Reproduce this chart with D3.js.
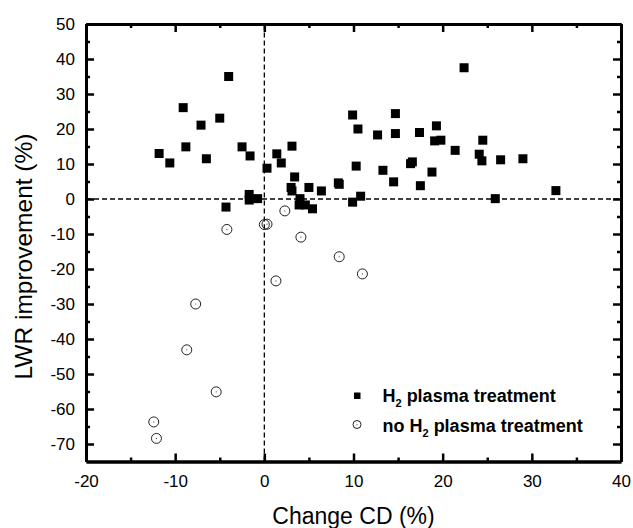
<!DOCTYPE html>
<html><head><meta charset="utf-8">
<script src="https://cdn.jsdelivr.net/npm/d3@7"></script>
<style>body{margin:0;background:#fff}svg{display:block;font-family:"Liberation Sans",Arial,sans-serif}</style>
</head><body>
<svg id="c" width="633" height="528"></svg>
<script>
// H2 plasma treatment (filled squares)
const h2X = [-11.8,-10.6,-9.1,-8.8,-7.1,-6.5,-5.0,-4.0,-4.3,-2.5,-1.6,-1.7,-1.7,-0.75,0.3,1.4,1.9,3.1,3.4,3.0,3.1,5.0,4.0,3.9,4.6,5.4,6.4,22.4,9.9,14.7,10.5,12.7,14.7,17.4,19.3,19.1,19.8,21.4,24.5,24.1,24.4,26.5,29.0,10.3,13.3,16.4,16.6,14.5,18.8,17.5,8.3,8.4,9.9,10.8,25.9,32.7];
const h2Y = [13.0,10.3,26.1,14.9,21.1,11.5,23.1,35.0,-2.3,14.9,12.3,1.3,-0.3,0.1,8.8,12.9,10.3,15.1,6.3,3.3,2.3,3.3,0.1,-1.7,-1.7,-2.8,2.3,37.5,24.0,24.4,20.0,18.3,18.7,19.0,20.9,16.6,16.8,13.9,16.8,12.8,10.9,11.2,11.5,9.4,8.2,10.1,10.6,4.9,7.7,3.8,4.6,4.2,-0.9,0.8,0.1,2.4];
// no H2 plasma treatment (open circles)
const noX = [-4.2,0.0,0.3,2.3,4.1,8.4,11.0,1.3,-7.7,-8.7,-5.4,-12.4,-12.1];
const noY = [-8.7,-7.3,-7.2,-3.4,-10.9,-16.5,-21.4,-23.4,-30.0,-43.1,-55.1,-63.7,-68.4];
const xMajor = [-20,-10,0,10,20,30,40];
const xMinor = [-15,-5,5,15,25,35];
const yMajor = [-70,-60,-50,-40,-30,-20,-10,0,10,20,30,40,50];
const yMinor = [-65,-55,-45,-35,-25,-15,-5,5,15,25,35,45];
const legendLabels = [["", "H", "2", " plasma treatment"], ["no ", "H", "2", " plasma treatment"]];

const svg = d3.select("#c");
const L = 86, R = 621, T = 24, B = 461.5;
const x = d3.scaleLinear().domain([-20, 40]).range([L, R]);
const y = d3.scaleLinear().domain([-75, 50]).range([B, T]);

// dashed zero lines
svg.append("line").attr("x1", x(-20)).attr("x2", x(40)).attr("y1", y(0)).attr("y2", y(0))
  .attr("stroke", "#000").attr("stroke-width", 1.3).attr("stroke-dasharray", "5,3");
svg.append("line").attr("x1", x(0)).attr("x2", x(0)).attr("y1", y(-75)).attr("y2", y(50))
  .attr("stroke", "#000").attr("stroke-width", 1.3).attr("stroke-dasharray", "5,3");

// circles
const circ = svg.append("g");
noX.forEach((v, i) => {
  circ.append("circle").attr("cx", x(v)).attr("cy", y(noY[i])).attr("r", 5)
    .attr("fill", "none").attr("stroke", "#222").attr("stroke-width", 1);
  circ.append("circle").attr("cx", x(v)).attr("cy", y(noY[i])).attr("r", 0.6).attr("fill", "#444");
});
// squares
const sq = svg.append("g");
h2X.forEach((v, i) => {
  sq.append("rect").attr("x", x(v) - 4.5).attr("y", y(h2Y[i]) - 4.5).attr("width", 9).attr("height", 9).attr("fill", "#000");
});

function styleAxis(g) {
  g.selectAll("path.domain").attr("stroke", "#000").attr("stroke-width", 3);
  g.selectAll(".tick line").attr("stroke", "#000").attr("stroke-width", 2.5);
  g.selectAll("text").attr("font-size", 17).attr("fill", "#000").attr("font-family", "Liberation Sans, Arial, sans-serif");
}
const fmt = d => String(d);
// bottom
svg.append("g").attr("transform", `translate(0,${B})`)
  .call(d3.axisBottom(x).tickValues(xMajor).tickSize(-8).tickSizeOuter(0).tickPadding(13).tickFormat(fmt)).call(styleAxis);
svg.append("g").attr("transform", `translate(0,${B})`)
  .call(d3.axisBottom(x).tickValues(xMinor).tickSize(-4).tickSizeOuter(0).tickFormat("")).call(styleAxis);
// top
svg.append("g").attr("transform", `translate(0,${T})`)
  .call(d3.axisTop(x).tickValues(xMajor).tickSize(-8).tickSizeOuter(0).tickFormat("")).call(styleAxis);
svg.append("g").attr("transform", `translate(0,${T})`)
  .call(d3.axisTop(x).tickValues(xMinor).tickSize(-4).tickSizeOuter(0).tickFormat("")).call(styleAxis);
// left
svg.append("g").attr("transform", `translate(${L},0)`)
  .call(d3.axisLeft(y).tickValues(yMajor).tickSize(-8).tickSizeOuter(0).tickPadding(11).tickFormat(fmt)).call(styleAxis);
svg.append("g").attr("transform", `translate(${L},0)`)
  .call(d3.axisLeft(y).tickValues(yMinor).tickSize(-4).tickSizeOuter(0).tickFormat("")).call(styleAxis);
// right
svg.append("g").attr("transform", `translate(${R},0)`)
  .call(d3.axisRight(y).tickValues(yMajor).tickSize(-8).tickSizeOuter(0).tickFormat("")).call(styleAxis);
svg.append("g").attr("transform", `translate(${R},0)`)
  .call(d3.axisRight(y).tickValues(yMinor).tickSize(-4).tickSizeOuter(0).tickFormat("")).call(styleAxis);

// axis titles
svg.append("text").attr("x", 353.5).attr("y", 524).attr("text-anchor", "middle")
  .attr("font-size", 23).attr("fill", "#000").text("Change CD (%)");
svg.append("text").attr("transform", "translate(31.5,256.5) rotate(-90)").attr("text-anchor", "middle")
  .attr("font-size", 24.5).attr("fill", "#000").text("LWR improvement (%)");

// legend
svg.append("rect").attr("x", 354).attr("y", 392.5).attr("width", 6.5).attr("height", 6.5).attr("fill", "#000");
svg.append("circle").attr("cx", 357).attr("cy", 424.5).attr("r", 4).attr("fill", "none").attr("stroke", "#222").attr("stroke-width", 1);
svg.append("circle").attr("cx", 357).attr("cy", 424.5).attr("r", 0.6).attr("fill", "#444");
legendLabels.forEach((parts, i) => {
  const t = svg.append("text").attr("x", 382.5).attr("y", 401.7 + i * 30)
    .attr("font-size", 18).attr("font-weight", "bold").attr("fill", "#000");
  if (parts[0]) t.append("tspan").text(parts[0]);
  t.append("tspan").text(parts[1]);
  t.append("tspan").attr("font-size", 11).attr("dy", 5).text(parts[2]);
  t.append("tspan").attr("dy", -5).text(parts[3]);
});
</script>
</body></html>
